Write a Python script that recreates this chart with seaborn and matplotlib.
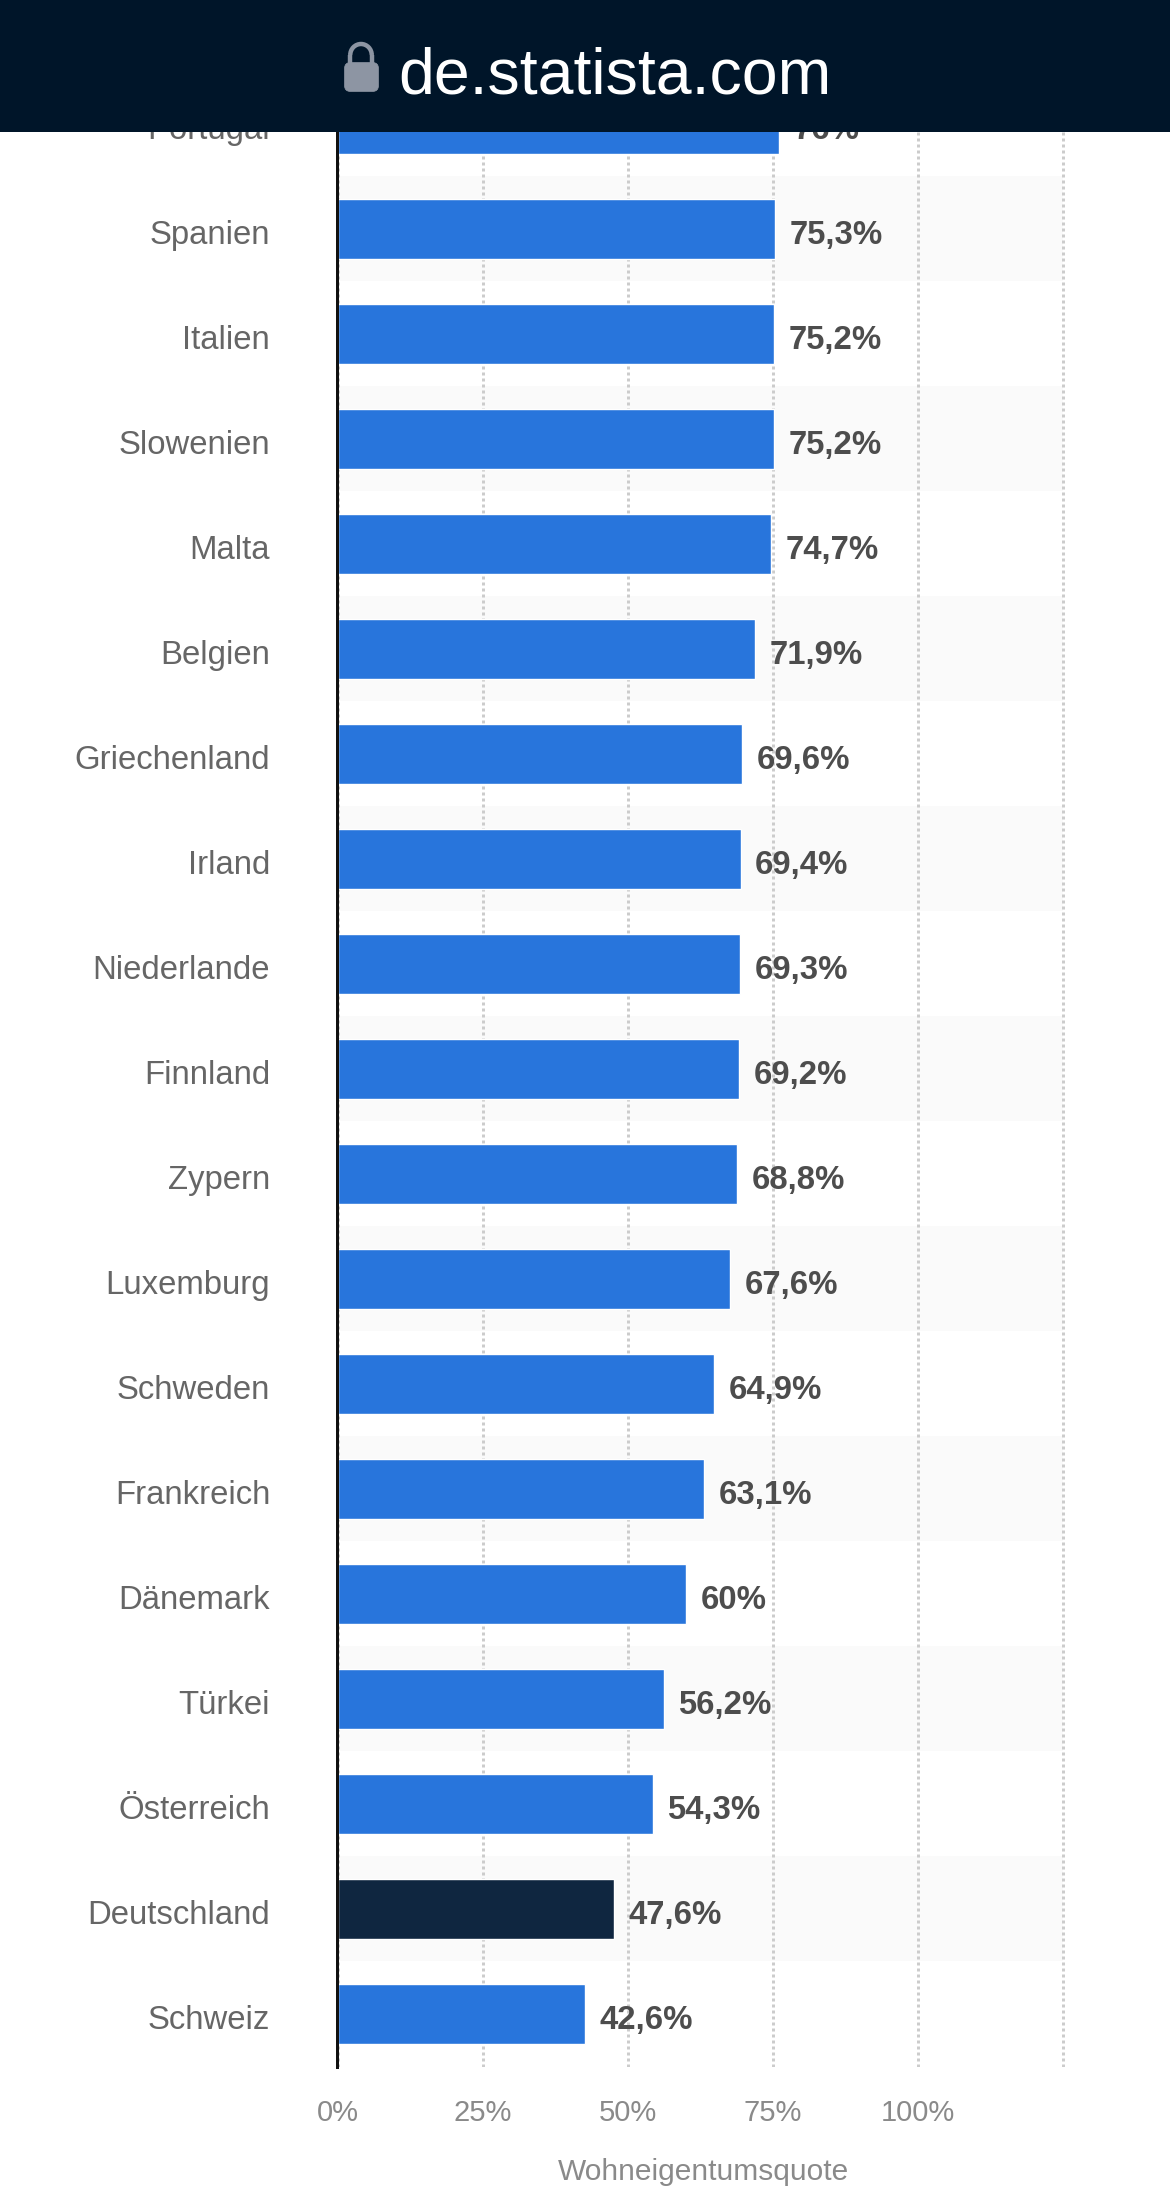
import matplotlib
matplotlib.use('Agg')
import matplotlib.pyplot as plt
from matplotlib.patches import Arc, FancyBboxPatch
from matplotlib.transforms import ScaledTranslation
import pandas as pd
import seaborn as sns

# data
countries = ['Portugal', 'Spanien', 'Italien', 'Slowenien', 'Malta', 'Belgien',
             'Griechenland', 'Irland', 'Niederlande', 'Finnland', 'Zypern',
             'Luxemburg', 'Schweden', 'Frankreich', 'Dänemark', 'Türkei',
             'Österreich', 'Deutschland', 'Schweiz']
quote = [76, 75.3, 75.2, 75.2, 74.7, 71.9, 69.6, 69.4, 69.3, 69.2, 68.8,
         67.6, 64.9, 63.1, 60, 56.2, 54.3, 47.6, 42.6]
x_ticks = [0, 25, 50, 75, 100, 125]
x_labels = ['0%', '25%', '50%', '75%', '100%', '']
x_title = 'Wohneigentumsquote'
highlight = 'Deutschland'

BLUE = '#2875dc'
DARK = '#0f2640'
LOCK = '#8d95a3'
W, H = 1170, 2202

sns.set_theme(style='white')
plt.rcParams['font.family'] = ['Liberation Sans', 'DejaVu Sans']

df = pd.DataFrame({'land': countries, 'quote': quote})
colors = {c: (DARK if c == highlight else BLUE) for c in countries}

fig = plt.figure(figsize=(W / 100, H / 100), dpi=100, facecolor='white')
# plot area in pixels: x 338-1070, y 71.5-2067
ax = fig.add_axes([338 / W, 1 - 2067 / H, (1070 - 338) / W, (2067 - 71.5) / H])

sns.barplot(data=df, y='land', x='quote', hue='land', palette=colors, dodge=False,
            legend=False, width=60 / 105, saturation=1, ax=ax, zorder=3)

# alternating row bands
for i in range(1, len(countries), 2):
    ax.axhspan(i - 0.5, i + 0.5, xmin=0, xmax=(1063 - 338) / (1070 - 338),
               color='#fafafa', lw=0, zorder=0)

ax.set_xlim(0, (1070 - 338) / 5.8)
ax.set_ylim(18.505, -0.5)
ax.set_xticks(x_ticks, x_labels)
ax.grid(axis='x', color='#cccccc', lw=2.16, ls=(0, (1, 1)), zorder=1)
ax.set_axisbelow(False)
for line in ax.get_xgridlines():
    line.set_zorder(1)

sns.despine(ax=ax, top=True, right=True, bottom=True)
ax.spines['left'].set_color('#111111')
ax.spines['left'].set_linewidth(2.16)
ax.spines['left'].set_position(('outward', 0.36))
ax.spines['left'].set_zorder(5)

ax.tick_params(axis='y', length=0, pad=48.5, labelsize=23.7, labelcolor='#666666')
ax.tick_params(axis='x', length=0, pad=23, labelsize=21, labelcolor='#8a8a8a')
# country names sit a little below the bar centre
down = ScaledTranslation(0, -3 / 100, fig.dpi_scale_trans)
for t in ax.get_yticklabels():
    t.set_transform(t.get_transform() + down)
ax.set_ylabel('')
ax.set_xlabel(x_title, fontsize=21.5, color='#8a8a8a', labelpad=22)

for i, v in enumerate(quote):
    label = f'{v:g}'.replace('.', ',') + '%'
    ax.annotate(label, (v, i), xytext=(10.5, -2), textcoords='offset points',
                ha='left', va='center_baseline', fontsize=23.7, fontweight='bold',
                color='#4d4d4d', zorder=6)

# browser bar on top of the chart, clips the first row
bar = fig.add_axes([0, 1 - 132 / H, 1, 132 / H], zorder=10)
bar.set_xlim(0, W)
bar.set_ylim(132, 0)
bar.set_facecolor('#001529')
for s in bar.spines.values():
    s.set_visible(False)
bar.set_xticks([])
bar.set_yticks([])
bar.grid(False)
bar.text(398, 93, 'de.statista.com', color='white', fontsize=46.4, ha='left', va='baseline')
bar.add_patch(FancyBboxPatch((344.5, 62.5), 34, 29, boxstyle='round,pad=0,rounding_size=6',
                             fc=LOCK, ec=LOCK, lw=0.5))
bar.add_patch(Arc((361, 55), 21.5, 22, theta1=180, theta2=360, ec=LOCK, lw=3.2))
bar.plot([350.25, 350.25], [55, 63], color=LOCK, lw=3.2, solid_capstyle='butt')
bar.plot([371.75, 371.75], [55, 63], color=LOCK, lw=3.2, solid_capstyle='butt')

fig.savefig('out.png', dpi=100)
